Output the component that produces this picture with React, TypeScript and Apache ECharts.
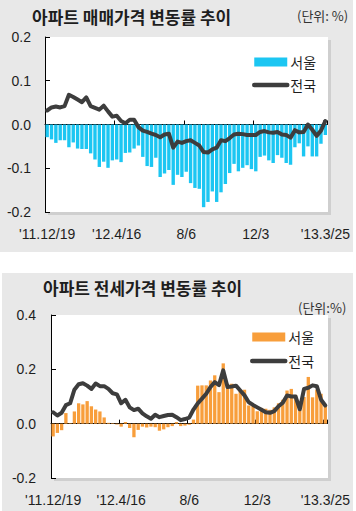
import React, { useEffect, useRef } from "react";
import * as echarts from "echarts";

// ---------- data ----------
const N = 65;
const tickIndex = [0, 16, 32, 48, 64];
const tickLabels = ["'11.12/19", "'12.4/16", "8/6", "12/3", "'13.3/25"];

// 아파트 매매가격 변동률 (%)
const seoulSale = [
  -0.029, -0.034, -0.042, -0.036, -0.036, -0.052, -0.041, -0.055, -0.056, -0.056,
  -0.066, -0.080, -0.097, -0.085, -0.099, -0.082, -0.080, -0.086, -0.065, -0.064,
  -0.055, -0.048, -0.074, -0.095, -0.097, -0.076, -0.120, -0.112, -0.104, -0.138,
  -0.115, -0.120, -0.108, -0.134, -0.145, -0.147, -0.189, -0.177, -0.153, -0.177,
  -0.155, -0.136, -0.111, -0.090, -0.107, -0.099, -0.093, -0.102, -0.107, -0.074,
  -0.071, -0.082, -0.088, -0.070, -0.076, -0.088, -0.092, -0.052, -0.043, -0.073,
  -0.050, -0.073, -0.073, -0.044, -0.024,
];
const nationalSale = [
  0.032, 0.039, 0.041, 0.039, 0.042, 0.068, 0.063, 0.057, 0.051, 0.062,
  0.042, 0.038, 0.034, 0.043, 0.030, 0.018, 0.020, 0.008, 0.003, 0.011,
  0.011, -0.006, -0.014, -0.017, -0.021, -0.024, -0.029, -0.023, -0.021, -0.053,
  -0.039, -0.042, -0.038, -0.036, -0.042, -0.048, -0.063, -0.064, -0.057, -0.053,
  -0.036, -0.038, -0.031, -0.023, -0.021, -0.022, -0.024, -0.024, -0.024, -0.017,
  -0.015, -0.018, -0.019, -0.017, -0.023, -0.024, -0.030, -0.013, -0.018, -0.017,
  0.000, -0.012, -0.026, -0.014, 0.008,
];

// 아파트 전세가격 변동률 (%)
const seoulJeonse = [
  -0.047, -0.034, -0.024, 0.039, 0.002, 0.045, 0.075, 0.071, 0.083, 0.064,
  0.052, 0.045, 0.023, 0.003, 0.002, -0.003, -0.011, 0.006, -0.016, -0.050,
  -0.023, -0.011, -0.014, -0.011, -0.013, -0.026, -0.021, -0.013, -0.009, 0.006,
  -0.009, -0.007, -0.004, 0.015, 0.140, 0.141, 0.141, 0.159, 0.178, 0.116,
  0.222, 0.147, 0.147, 0.110, 0.125, 0.125, 0.067, 0.067, 0.046, 0.058,
  0.055, 0.051, 0.060, 0.075, 0.088, 0.122, 0.128, 0.106, 0.050, 0.098,
  0.172, 0.097, 0.125, 0.110, 0.066,
];
const nationalJeonse = [
  0.042, 0.030, 0.040, 0.068, 0.075, 0.125, 0.145, 0.149, 0.140, 0.128,
  0.148, 0.138, 0.138, 0.128, 0.112, 0.108, 0.075, 0.088, 0.060, 0.050,
  0.055, 0.038, 0.027, 0.018, 0.033, 0.024, 0.028, 0.032, 0.033, 0.024,
  0.013, 0.017, 0.022, 0.052, 0.075, 0.092, 0.110, 0.135, 0.153, 0.142,
  0.196, 0.135, 0.137, 0.140, 0.122, 0.104, 0.079, 0.069, 0.060, 0.051,
  0.042, 0.040, 0.046, 0.064, 0.077, 0.104, 0.100, 0.100, 0.053, 0.128,
  0.132, 0.141, 0.138, 0.088, 0.067,
];

const categories = Array.from({ length: N }, (_, i) => {
  const k = tickIndex.indexOf(i);
  return k >= 0 ? tickLabels[k] : `w${i + 1}`;
});

const NUM_FONT = "'Liberation Sans', Arial, Helvetica, sans-serif";
const KR_FONT = "'Noto Sans CJK KR', 'Noto Sans', sans-serif";
const TEXT = "#1e1e1e";
const LINE_COLOR = "#3d3d3d";

type Cfg = {
  title: string;
  titleLeft: number;
  titleTop: number;
  unit: string;
  unitLeft: number;
  unitTop: number;
  grid: { left: number; top: number; width: number; height: number };
  yMin: number;
  yMax: number;
  yInterval: number;
  yMargin: number;
  xMargin: number;
  barColor: string;
  bars: number[];
  line: number[];
  legendLeft: number;
  legendTop: number;
  legendGap: number;
};

function makeOption(c: Cfg) {
  const g = c.grid;
  return {
    animation: false,
    backgroundColor: "#e8e8e8",
    title: [
      {
        text: c.title,
        left: c.titleLeft,
        top: c.titleTop,
        padding: 0,
        textStyle: { fontFamily: KR_FONT, fontSize: 17, fontWeight: "bold", color: TEXT, lineHeight: 20 },
      },
      {
        text: c.unit,
        left: c.unitLeft,
        top: c.unitTop,
        padding: 0,
        textStyle: { fontFamily: KR_FONT, fontSize: 13, fontWeight: "normal", color: "#333", lineHeight: 15 },
      },
    ],
    graphic: {
      elements: [
        {
          type: "rect",
          z: -2,
          silent: true,
          shape: { x: g.left + 3, y: g.top + 3, width: g.width, height: g.height },
          style: { fill: "#cfcfcf" },
        },
        {
          type: "rect",
          z: -1,
          silent: true,
          shape: { x: g.left, y: g.top, width: g.width, height: g.height },
          style: { fill: "#ffffff" },
        },
      ],
    },
    legend: {
      orient: "vertical",
      left: c.legendLeft,
      top: c.legendTop,
      padding: 0,
      itemWidth: 33,
      itemHeight: 9,
      itemGap: c.legendGap,
      selectedMode: false,
      textStyle: { fontFamily: KR_FONT, fontSize: 14, color: TEXT, padding: [0, 0, 0, -2] },
      data: [
        { name: "서울", icon: "rect" },
        {
          name: "전국",
          itemStyle: { color: "rgba(0,0,0,0)", borderColor: "rgba(0,0,0,0)", borderWidth: 0 },
          lineStyle: { color: LINE_COLOR, width: 4.5, cap: "round" },
        },
      ],
    },
    grid: { left: g.left, top: g.top, width: g.width, height: g.height, containLabel: false },
    xAxis: [
      {
        type: "category",
        data: categories,
        position: "bottom",
        axisLine: { show: false, onZero: false },
        axisTick: { show: false },
        splitLine: { show: false },
        axisLabel: {
          interval: 15,
          margin: c.xMargin,
          fontSize: 14,
          fontFamily: NUM_FONT,
          color: TEXT,
        },
      },
      {
        type: "category",
        data: categories,
        position: "bottom",
        axisLine: { show: true, onZero: true, lineStyle: { color: "#000", width: 1 } },
        axisTick: { show: true, inside: true, length: 4, interval: 15, lineStyle: { color: "#000" } },
        axisLabel: { show: false },
        splitLine: { show: false },
      },
    ],
    yAxis: {
      type: "value",
      min: c.yMin,
      max: c.yMax,
      interval: c.yInterval,
      axisLine: { show: true, lineStyle: { color: "#000", width: 1 } },
      axisTick: { show: true, inside: true, length: 5, lineStyle: { color: "#000" } },
      splitLine: { show: false },
      axisLabel: {
        margin: c.yMargin,
        fontSize: 14,
        fontFamily: NUM_FONT,
        color: TEXT,
        formatter: (v: number) => v.toFixed(1),
      },
    },
    series: [
      {
        name: "서울",
        type: "bar",
        xAxisIndex: 0,
        data: c.bars,
        barCategoryGap: "22%",
        itemStyle: { color: c.barColor },
      },
      {
        name: "전국",
        type: "line",
        xAxisIndex: 0,
        data: c.line,
        symbol: "none",
        lineStyle: { color: LINE_COLOR, width: 4, cap: "round", join: "round" },
        itemStyle: { color: LINE_COLOR },
      },
    ],
  };
}

function Chart({ cfg, style }: { cfg: Cfg; style: React.CSSProperties }) {
  const ref = useRef<HTMLDivElement>(null);
  useEffect(() => {
    if (!ref.current) return;
    const chart = echarts.init(ref.current, undefined, { renderer: "svg" });
    chart.setOption(makeOption(cfg) as any);
    return () => chart.dispose();
  }, [cfg]);
  return <div ref={ref} style={style} />;
}

const saleCfg: Cfg = {
  title: "아파트 매매가격 변동률 추이",
  titleLeft: 32,
  titleTop: 6,
  unit: "(단위: %)",
  unitLeft: 297,
  unitTop: 8,
  grid: { left: 45, top: 37, width: 283, height: 175 },
  yMin: -0.2,
  yMax: 0.2,
  yInterval: 0.1,
  yMargin: 14,
  xMargin: 15,
  barColor: "#1cc6f2",
  bars: seoulSale,
  line: nationalSale,
  legendLeft: 252,
  legendTop: 55,
  legendGap: 9,
};

const jeonseCfg: Cfg = {
  title: "아파트 전세가격 변동률 추이",
  titleLeft: 41,
  titleTop: 4,
  unit: "(단위:%)",
  unitLeft: 296,
  unitTop: 27,
  grid: { left: 49, top: 42, width: 277, height: 163 },
  yMin: -0.2,
  yMax: 0.4,
  yInterval: 0.2,
  yMargin: 15,
  xMargin: 15,
  barColor: "#f89e3b",
  bars: seoulJeonse,
  line: nationalJeonse,
  legendLeft: 248,
  legendTop: 57,
  legendGap: 10,
};

export default function App() {
  return (
    <div
      style={{
        position: "fixed",
        left: 0,
        top: 0,
        width: 356,
        height: 511,
        background: "#ffffff",
        overflow: "hidden",
      }}
    >
      <Chart cfg={saleCfg} style={{ position: "absolute", left: 0, top: 0, width: 353, height: 252 }} />
      <Chart cfg={jeonseCfg} style={{ position: "absolute", left: 2, top: 273, width: 351, height: 238 }} />
    </div>
  );
}
